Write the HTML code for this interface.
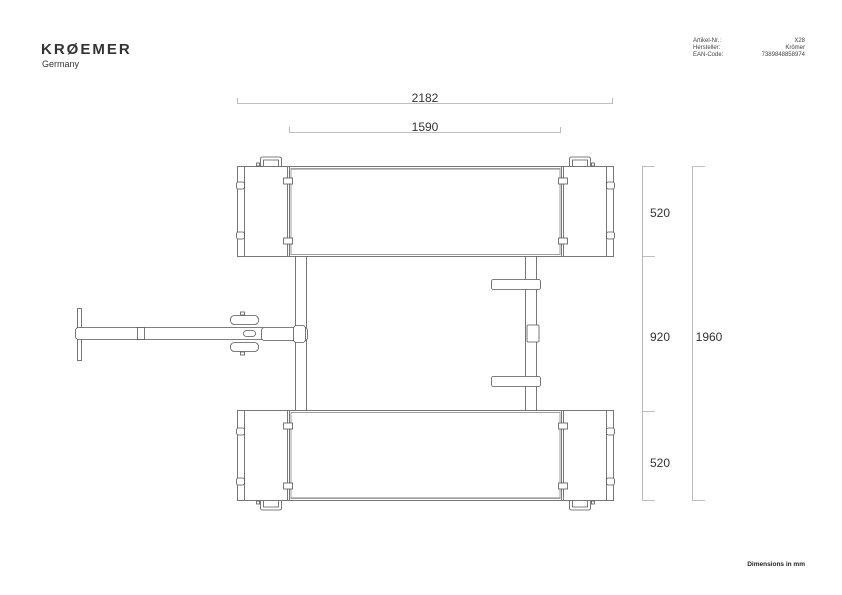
<!DOCTYPE html>
<html><head><style>
html,body{margin:0;padding:0;background:#fff}
svg{display:block}
text{font-family:"Liberation Sans",sans-serif}
</style></head><body>
<svg width="842" height="595" viewBox="0 0 842 595" xmlns="http://www.w3.org/2000/svg">
<text x="41" y="54" font-size="15" font-weight="bold" fill="#333" letter-spacing="2">KRØEMER</text>
<text x="42" y="67" font-size="9" fill="#333">Germany</text>
<g font-size="6" fill="#444">
<text x="693" y="42">Artikel-Nr.:</text><text x="693" y="49">Hersteller:</text><text x="693" y="56">EAN-Code:</text>
<text x="805" y="42" text-anchor="end">X28</text><text x="805" y="49" text-anchor="end">Krömer</text><text x="805" y="56" text-anchor="end">7389848858974</text>
</g>
<text x="805" y="566" font-size="6.5" font-weight="bold" fill="#222" text-anchor="end">Dimensions in mm</text>

<g stroke="#aaa" stroke-width="0.8" fill="none">
<path d="M237.5 98V103.5H612.5V98"/>
<path d="M289.5 127V132.5H560.5V127"/>
<path d="M655 166.5H642.5V500.5H655M642.5 256.5H655M642.5 411.5H655"/>
<path d="M705 166.5H692.5V500.5H705"/>
</g>
<g font-size="12" fill="#333" text-anchor="middle">
<text x="425" y="102">2182</text><text x="425" y="131">1590</text>
<text x="660" y="217">520</text><text x="660" y="341">920</text><text x="660" y="467">520</text>
<text x="709" y="341">1960</text>
</g>

<g stroke="#555" stroke-width="0.8" fill="#fff">
<rect x="295.5" y="255.5" width="11" height="156"/>
<rect x="525.5" y="255.5" width="11" height="156"/>
<line x1="306" y1="256" x2="525" y2="256"/>
<line x1="306" y1="411" x2="525" y2="411"/>
<rect x="527" y="325" width="12" height="17" rx="1"/>
<rect x="491.5" y="279.5" width="49" height="10" rx="2"/>
<rect x="491.5" y="376.5" width="49" height="10" rx="2"/>
<rect x="77.5" y="308.5" width="4" height="52"/>
<rect x="75.5" y="327.5" width="190" height="12" rx="3"/>
<rect x="137.5" y="327.5" width="7" height="12"/>
<rect x="230.5" y="315.5" width="28" height="9" rx="4"/>
<rect x="230.5" y="342.5" width="28" height="9" rx="4"/>
<rect x="240.5" y="312" width="4" height="3"/><rect x="240.5" y="352" width="4" height="3"/>
<rect x="243.5" y="330.5" width="12" height="6" rx="3"/>
<rect x="261.5" y="327.5" width="46" height="13" rx="3"/>
<rect x="293.5" y="325.5" width="12" height="17" rx="3"/>
</g>

<g id="box" stroke="#555" stroke-width="0.8" fill="#fff">
<rect x="237.5" y="166.5" width="376" height="90"/>
<line x1="287.5" y1="167" x2="287.5" y2="256"/>
<line x1="289.5" y1="167" x2="289.5" y2="256"/>
<line x1="561.5" y1="167" x2="561.5" y2="256"/>
<line x1="563.5" y1="167" x2="563.5" y2="256"/>
<rect x="291" y="168.5" width="269" height="86" stroke="#888"/>
<line x1="291" y1="169.5" x2="560" y2="169.5" stroke="#aaa"/>
<line x1="244.5" y1="167" x2="244.5" y2="256"/>
<line x1="606.5" y1="167" x2="606.5" y2="256"/>
<rect x="236.5" y="182" width="8" height="7" rx="2"/><rect x="236.5" y="232" width="8" height="7" rx="2"/>
<rect x="606.5" y="182" width="8" height="7" rx="2"/><rect x="606.5" y="232" width="8" height="7" rx="2"/>
<rect x="283.5" y="178" width="9" height="6"/><rect x="283.5" y="238" width="9" height="6"/>
<rect x="558.5" y="178" width="9" height="6"/><rect x="558.5" y="238" width="9" height="6"/>
<path d="M260.5 166V159Q260.5 157 262.5 157H279.5Q281.5 157 281.5 159V166" fill="none"/>
<path d="M263.5 166V160H278.5V166" fill="none"/>
<rect x="256.5" y="163" width="3" height="3"/>
<path d="M569.5 166V159Q569.5 157 571.5 157H588.5Q590.5 157 590.5 159V166" fill="none"/>
<path d="M572.5 166V160H587.5V166" fill="none"/>
<rect x="591.5" y="163" width="3" height="3"/>
</g>
<use href="#box" transform="translate(0,667) scale(1,-1)"/>
</svg>
</body></html>
